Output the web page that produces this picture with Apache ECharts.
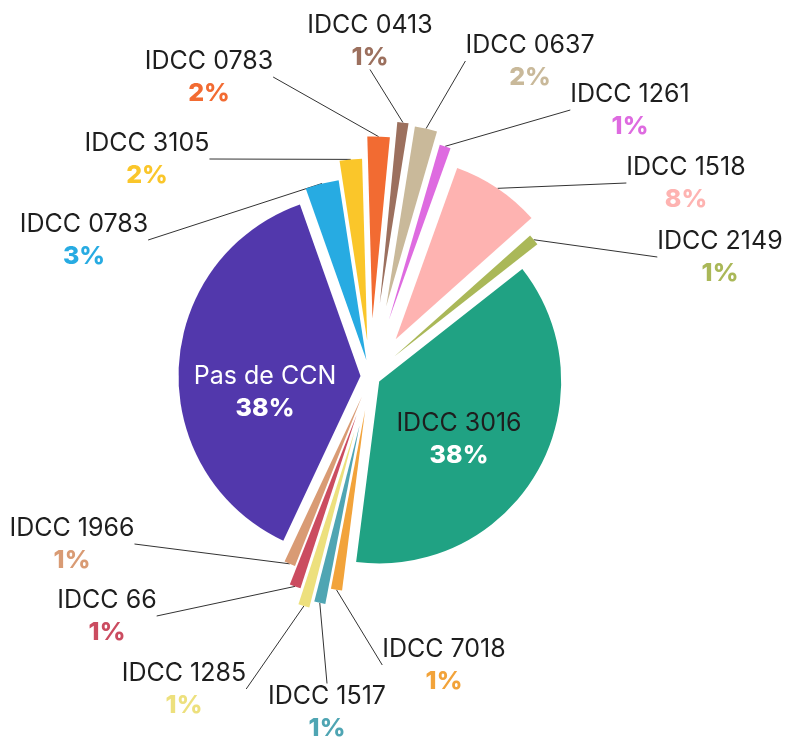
<!DOCTYPE html>
<html>
<head>
<meta charset="utf-8">
<script src="https://cdn.jsdelivr.net/npm/echarts@6/dist/echarts.min.js"></script>
<style>
    html, body {
        margin: 0;
        padding: 0;
        background: #ffffff;
    }

    #main {
        width: 787px;
        height: 741px;
    }
</style>
</head>
<body>
<div id="main"></div>
<script>
    // données (ordre horaire depuis le haut)
    var names = ['IDCC 0413', 'IDCC 0637', 'IDCC 1261', 'IDCC 1518', 'IDCC 2149', 'IDCC 3016',
        'IDCC 7018', 'IDCC 1517', 'IDCC 1285', 'IDCC 66', 'IDCC 1966', 'Pas de CCN',
        'IDCC 0783', 'IDCC 3105', 'IDCC 0783'];
    var values = [1, 2, 1, 8, 1, 38, 1, 1, 1, 1, 1, 38, 3, 2, 2];
    var colors = ['#9c705e', '#c9b99a', '#de6be0', '#feb3b1', '#aab858', '#20a283',
        '#f2a33a', '#4fa5b3', '#ede07d', '#cb4c60', '#d99b74', '#5238ac',
        '#27abe2', '#fac62a', '#f26b32'];

    // décalage de chaque part (px) et position des étiquettes
    var explode = [74, 72, 60, 45, 31, 10, 34, 50, 57, 41, 22, 10, 17, 36, 58];
    var labelPos = [[370, 41], [530, 61], [630, 110], [686, 183], [720, 257], [459, 439],
        [444, 665], [327, 712], [184, 689], [107, 616], [72, 544], [265, 392],
        [84, 240], [147, 159], [209, 77]];
    var inside = [5, 11];

    var startAngle = 84.5;
    var cx = 370.5, cy = 376.5, radius = 182;
    var fontFamily = 'Inter, "Noto Sans", sans-serif';

    var total = values.reduce(function (a, b) { return a + b; }, 0);

    var myChart = echarts.init(document.getElementById('main'));

    var series = [];
    var cum = 0;
    names.forEach(function (nm, i) {
        var mid = (90 - startAngle + (cum + values[i] / 2) / total * 360) * Math.PI / 180;
        cum += values[i];
        var isInside = inside.indexOf(i) >= 0;

        var data = values.map(function (v, j) {
            if (j === i) {
                return {value: v, name: names[j], itemStyle: {color: colors[j]}};
            }
            return {
                value: v, name: names[j],
                itemStyle: {opacity: 0},
                label: {show: false},
                labelLine: {show: false}
            };
        });

        series.push({
            type: 'pie',
            silent: true,
            animation: false,
            radius: radius,
            center: [cx + explode[i] * Math.sin(mid), cy - explode[i] * Math.cos(mid)],
            startAngle: startAngle,
            clockwise: true,
            avoidLabelOverlap: false,
            itemStyle: {borderWidth: 0},
            label: {
                show: true,
                position: isInside ? 'inside' : 'outside',
                formatter: '{n|{b}}\n{p|{c}%}',
                rich: {
                    n: {
                        fontFamily: fontFamily,
                        fontSize: 25,
                        color: i === 11 ? '#ffffff' : '#1e1e1e',
                        lineHeight: 32,
                        align: 'center'
                    },
                    p: {
                        fontFamily: fontFamily,
                        fontSize: 25,
                        fontWeight: 800,
                        color: isInside ? '#ffffff' : colors[i],
                        lineHeight: 32,
                        align: 'center'
                    }
                }
            },
            labelLine: {
                show: !isInside,
                length: 10,
                length2: 0,
                lineStyle: {color: '#333333', width: 1}
            },
            labelLayout: function (p) {
                if (p.dataIndex !== i) {
                    return {};
                }
                return {
                    x: labelPos[i][0],
                    y: labelPos[i][1],
                    align: 'center',
                    verticalAlign: 'middle'
                };
            },
            data: data
        });
    });

    var option = {
        backgroundColor: '#ffffff',
        series: series
    };

    myChart.setOption(option);
</script>
</body>
</html>
